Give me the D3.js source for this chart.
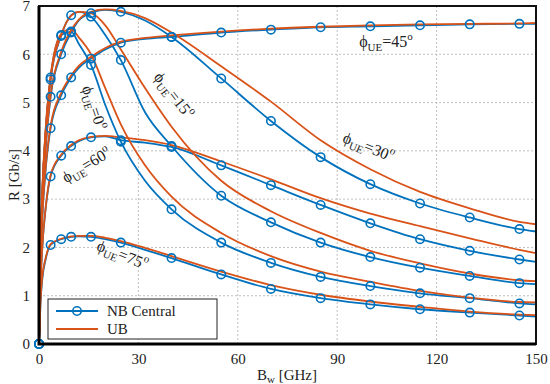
<!DOCTYPE html>
<html>
<head>
<meta charset="utf-8">
<script src="https://cdn.jsdelivr.net/npm/d3@7"></script>
<style>
  body { margin: 0; background: #fff; }
  svg text { font-family: 'Liberation Serif', 'Times New Roman', Times, 'DejaVu Serif', serif; fill: #222; }
</style>
</head>
<body>
<div id="chart"></div>
<script>

// bandwidth grid (GHz) for the curves, and where the NB markers sit
var bw = [0, 0.5, 1, 2, 3.5, 6.7, 9.7, 12, 15.7, 20, 24.7, 32, 40, 55, 70, 85, 100, 115, 130, 145, 150];
var markerBw = [0, 3.5, 6.7, 9.7, 15.7, 24.7, 40, 55, 70, 85, 100, 115, 130, 145];

// NB Central rate [Gb/s], one array per UE angle
var nb0  = [0, 2.05, 3.15, 4.4, 5.52, 6.4, 6.47, 6.22, 5.78, 4.95, 4.19, 3.38, 2.79, 2.1, 1.68, 1.39, 1.2, 1.05, 0.95, 0.84, 0.82];
var nb15 = [0, 2.0, 3.1, 4.35, 5.48, 6.38, 6.81, 6.88, 6.78, 6.4, 5.88, 4.8, 4.1, 3.07, 2.52, 2.1, 1.8, 1.58, 1.41, 1.26, 1.24];
var nb30 = [0, 1.9, 2.9, 4.05, 5.12, 6.0, 6.45, 6.7, 6.85, 6.92, 6.88, 6.7, 6.36, 5.5, 4.62, 3.87, 3.31, 2.91, 2.62, 2.38, 2.33];
var nb45 = [0, 1.7, 2.6, 3.6, 4.47, 5.15, 5.52, 5.72, 5.91, 6.1, 6.24, 6.32, 6.36, 6.45, 6.51, 6.56, 6.58, 6.6, 6.62, 6.63, 6.63];
var nb60 = [0, 1.3, 2.0, 2.8, 3.47, 3.9, 4.1, 4.2, 4.28, 4.3, 4.22, 4.17, 4.08, 3.7, 3.29, 2.88, 2.5, 2.17, 1.93, 1.75, 1.7];
var nb75 = [0, 0.9, 1.35, 1.75, 2.05, 2.17, 2.22, 2.23, 2.22, 2.17, 2.1, 1.95, 1.78, 1.44, 1.14, 0.95, 0.82, 0.72, 0.65, 0.59, 0.57];

// UB rate [Gb/s]
var ub0  = [0, 2.1, 3.2, 4.45, 5.55, 6.42, 6.52, 6.35, 6.0, 5.3, 4.55, 3.7, 3.05, 2.3, 1.82, 1.5, 1.29, 1.1, 0.96, 0.87, 0.86];
var ub15 = [0, 2.05, 3.15, 4.4, 5.5, 6.4, 6.8, 6.88, 6.85, 6.6, 6.1, 5.3, 4.5, 3.38, 2.75, 2.3, 1.93, 1.67, 1.46, 1.32, 1.3];
var ub30 = [0, 1.95, 2.95, 4.1, 5.15, 6.05, 6.5, 6.72, 6.88, 6.93, 6.9, 6.75, 6.45, 5.75, 5.02, 4.22, 3.62, 3.15, 2.81, 2.53, 2.48];
var ub45 = [0, 1.75, 2.65, 3.65, 4.52, 5.2, 5.56, 5.76, 5.95, 6.13, 6.26, 6.34, 6.39, 6.47, 6.53, 6.57, 6.6, 6.62, 6.63, 6.64, 6.65];
var ub60 = [0, 1.32, 2.02, 2.82, 3.5, 3.92, 4.12, 4.22, 4.29, 4.31, 4.28, 4.22, 4.12, 3.78, 3.41, 3.02, 2.7, 2.44, 2.19, 1.95, 1.88];
var ub75 = [0, 0.95, 1.4, 1.78, 2.07, 2.18, 2.23, 2.24, 2.24, 2.2, 2.13, 1.99, 1.82, 1.5, 1.22, 1.02, 0.88, 0.77, 0.67, 0.61, 0.6];

var xTicks = [0, 30, 60, 90, 120, 150];
var yTicks = [0, 1, 2, 3, 4, 5, 6, 7];

var nbSeries = [nb0, nb15, nb30, nb45, nb60, nb75];
var ubSeries = [ub0, ub15, ub30, ub45, ub60, ub75];

var blue = "#0072BD", orange = "#D95319";
var serif = "'Liberation Serif', 'Times New Roman', Times, 'DejaVu Serif', serif";

var W = 550, H = 384;
var plot = {left: 39, right: 536, top: 6, bottom: 344};

var x = d3.scaleLinear().domain([0, 150]).range([plot.left, plot.right]);
var y = d3.scaleLinear().domain([0, 7]).range([plot.bottom, plot.top]);

var svg = d3.select("#chart").append("svg")
    .attr("width", W)
    .attr("height", H)
    .attr("font-family", serif);

// grid
svg.append("g").selectAll("line")
    .data(xTicks.slice(1, -1))
  .enter().append("line")
    .attr("x1", function(d) { return x(d); })
    .attr("x2", function(d) { return x(d); })
    .attr("y1", plot.top).attr("y2", plot.bottom)
    .attr("stroke", "#b0b0b0").attr("stroke-width", 0.8)
    .attr("stroke-dasharray", "2,2");
svg.append("g").selectAll("line")
    .data(yTicks.slice(1, -1))
  .enter().append("line")
    .attr("y1", function(d) { return y(d); })
    .attr("y2", function(d) { return y(d); })
    .attr("x1", plot.left).attr("x2", plot.right)
    .attr("stroke", "#b0b0b0").attr("stroke-width", 0.8)
    .attr("stroke-dasharray", "2,2");

var xAxis = d3.axisBottom(x).tickValues(xTicks).tickSize(0).tickPadding(9).tickFormat(d3.format("d"));
var yAxis = d3.axisLeft(y).tickValues(yTicks).tickSize(0).tickPadding(9).tickFormat(d3.format("d"));

svg.append("g")
    .attr("class", "x_axis")
    .attr("transform", "translate(0," + plot.bottom + ")")
    .call(xAxis)
    .attr("font-family", serif)
    .attr("font-size", 15)
  .call(function(g) { g.select(".domain").remove(); });

svg.append("g")
    .attr("class", "y_axis")
    .attr("transform", "translate(" + plot.left + ",0)")
    .call(yAxis)
    .attr("font-family", serif)
    .attr("font-size", 15)
  .call(function(g) { g.select(".domain").remove(); });

// lines
var line = d3.line()
    .x(function(d) { return x(d[0]); })
    .y(function(d) { return y(d[1]); })
    .curve(d3.curveMonotoneX);

function pairs(vals) { return bw.map(function(b, i) { return [b, vals[i]]; }); }

svg.append("g").selectAll("path")
    .data(nbSeries)
  .enter().append("path")
    .attr("d", function(d) { return line(pairs(d)); })
    .attr("fill", "none").attr("stroke", blue).attr("stroke-width", 1.8);

svg.append("g").selectAll("path")
    .data(ubSeries)
  .enter().append("path")
    .attr("d", function(d) { return line(pairs(d)); })
    .attr("fill", "none").attr("stroke", orange).attr("stroke-width", 1.8);

// NB markers
var marks = [];
nbSeries.forEach(function(s) {
    bw.forEach(function(b, i) {
        if (markerBw.indexOf(b) >= 0) marks.push([b, s[i]]);
    });
});
svg.append("g").selectAll("circle")
    .data(marks)
  .enter().append("circle")
    .attr("cx", function(d) { return x(d[0]); })
    .attr("cy", function(d) { return y(d[1]); })
    .attr("r", 4.2)
    .attr("fill", "none").attr("stroke", blue).attr("stroke-width", 1.6);

// frame
svg.append("rect")
    .attr("x", plot.left).attr("y", plot.top)
    .attr("width", plot.right - plot.left).attr("height", plot.bottom - plot.top)
    .attr("fill", "none").attr("stroke", "#111").attr("stroke-width", 2);
svg.append("path")
    .attr("d", "M" + plot.left + "," + plot.top + "V" + plot.bottom + "H" + plot.right)
    .attr("fill", "none").attr("stroke", "#000").attr("stroke-width", 3);

// curve annotations: [angle label, cx, cy, rotation]
var notes = [
    ["45", 386, 43, 0],
    ["0", 93, 108, 71],
    ["15", 173, 96, 52],
    ["30", 368, 148, 22],
    ["60", 87, 166, -31],
    ["75", 122, 256, 22]
];
notes.forEach(function(n) {
    var t = svg.append("text")
        .attr("transform", "translate(" + n[1] + "," + n[2] + ") rotate(" + n[3] + ")")
        .attr("text-anchor", "middle")
        .attr("y", 4)
        .style("font-size", "16px");
    t.append("tspan").text("\u03D5");
    t.append("tspan").attr("dy", 4).style("font-size", "11px").text("UE");
    t.append("tspan").attr("dy", -4).text("=" + n[0]);
    t.append("tspan").attr("dy", -7).style("font-size", "11px").text("o");
});

// axis titles
var xl = svg.append("text")
    .attr("x", 287).attr("y", 380)
    .attr("text-anchor", "middle")
    .style("font-size", "15px");
xl.append("tspan").text("B");
xl.append("tspan").attr("dy", 3).style("font-size", "11px").text("w");
xl.append("tspan").attr("dy", -3).text(" [GHz]");

svg.append("text")
    .attr("transform", "translate(19," + y(3.5) + ") rotate(-90)")
    .attr("text-anchor", "middle")
    .style("font-size", "15px")
    .text("R [Gb/s]");

// legend
var lg = svg.append("g");
lg.append("rect")
    .attr("x", 48).attr("y", 299).attr("width", 169).attr("height", 40)
    .attr("fill", "#fff").attr("stroke", "#222").attr("stroke-width", 1);
var legendItems = [["NB Central", blue, true], ["UB", orange, false]];
legendItems.forEach(function(it, i) {
    var yy = 311 + i * 18;
    lg.append("line")
        .attr("x1", 56).attr("x2", 98).attr("y1", yy).attr("y2", yy)
        .attr("stroke", it[1]).attr("stroke-width", 1.8);
    if (it[2]) {
        lg.append("circle").attr("cx", 77).attr("cy", yy).attr("r", 4.2)
            .attr("fill", "none").attr("stroke", it[1]).attr("stroke-width", 1.6);
    }
    lg.append("text").attr("x", 107).attr("y", yy + 5)
        .style("font-size", "15px").text(it[0]);
});
</script>
</body>
</html>
